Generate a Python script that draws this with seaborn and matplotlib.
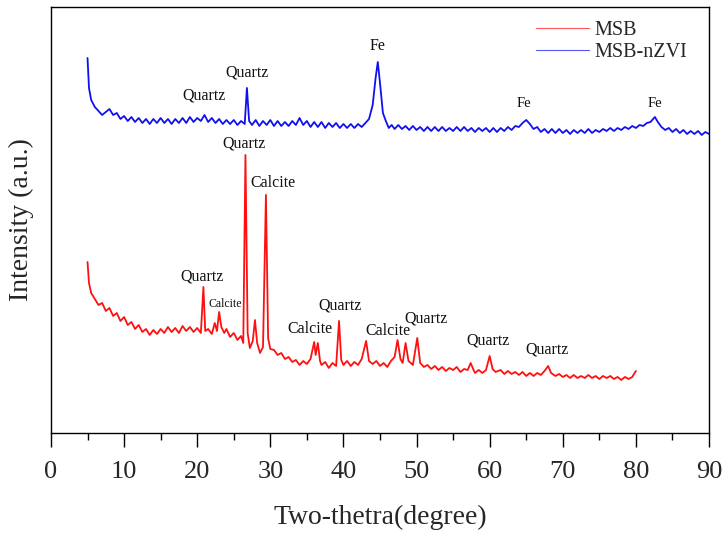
import matplotlib
matplotlib.use("Agg")
import matplotlib.pyplot as plt
import seaborn as sns
import pandas as pd

# MSB pattern (two-theta in degree, intensity a.u.)
msb_x = [5.0, 5.2, 5.5, 6.0, 6.5, 7.0, 7.5, 8.0, 8.5, 9.0, 9.5, 10.0, 10.5, 11.0, 11.5, 12.0, 12.5, 13.0,
         13.5, 14.0, 14.5, 15.0, 15.5, 16.0, 16.5, 17.0, 17.5, 18.0, 18.5, 19.0, 19.5, 20.0, 20.5, 20.85,
         21.1, 21.5, 22.0, 22.4, 22.7, 23.0, 23.3, 23.7, 24.0, 24.5, 25.0, 25.5, 26.0, 26.3, 26.6, 26.9,
         27.2, 27.6, 27.9, 28.2, 28.6, 29.0, 29.4, 29.7, 30.0, 30.5, 31.0, 31.5, 32.0, 32.5, 33.0, 33.5,
         34.0, 34.5, 35.0, 35.5, 36.0, 36.2, 36.5, 36.8, 37.0, 37.5, 38.0, 38.5, 39.0, 39.4, 39.7, 40.0,
         40.5, 41.0, 41.5, 42.0, 42.5, 43.1, 43.5, 44.0, 44.5, 45.0, 45.5, 46.0, 46.5, 47.0, 47.4, 47.8,
         48.1, 48.5, 48.9, 49.5, 50.1, 50.5, 51.0, 51.5, 52.0, 52.5, 53.0, 53.5, 54.0, 54.5, 55.0, 55.5,
         56.0, 56.5, 57.0, 57.4, 57.8, 58.0, 58.5, 59.0, 59.5, 60.0, 60.4, 60.8, 61.5, 62.0, 62.5, 63.0,
         63.5, 64.0, 64.5, 65.0, 65.5, 66.0, 66.5, 67.0, 67.5, 68.0, 68.4, 69.0, 69.5, 70.0, 70.5, 71.0,
         71.5, 72.0, 72.5, 73.0, 73.5, 74.0, 74.5, 75.0, 75.5, 76.0, 76.5, 77.0, 77.5, 78.0, 78.5, 79.0,
         79.5, 80.0]
msb_y = [171, 150, 140, 134, 128, 130, 122, 125, 117, 120, 112, 116, 108, 111, 104, 108, 101, 104,
         98, 103, 99, 104, 100, 106, 101, 105, 100, 107, 102, 106, 101, 105, 100, 146,
         102, 104, 99, 110, 102, 121, 106, 100, 104, 96, 100, 93, 97, 90, 278, 100,
         85, 92, 113, 90, 80, 86, 238, 95, 84, 83, 78, 80, 74, 76, 71, 73,
         68, 72, 69, 74, 91, 78, 90, 72, 68, 71, 65, 70, 67, 112, 73, 68,
         72, 67, 71, 68, 74, 92, 72, 69, 72, 67, 70, 66, 72, 76, 93, 74,
         70, 90, 72, 68, 95, 70, 66, 68, 64, 67, 63, 66, 62, 65, 63, 66,
         61, 64, 63, 70, 63, 60, 63, 60, 63, 77, 64, 61, 63, 59, 62, 59,
         61, 58, 61, 57, 60, 57, 60, 58, 62, 67, 60, 57, 59, 56, 58, 55,
         58, 55, 57, 55, 58, 55, 57, 54, 57, 55, 57, 54, 56, 53, 56, 54,
         56, 62]

# MSB-nZVI pattern
nzvi_x = [5.0, 5.2, 5.5, 6.0, 6.5, 7.0, 7.5, 8.0, 8.5, 9.0, 9.5, 10.0, 10.5, 11.0, 11.5, 12.0, 12.5, 13.0,
          13.5, 14.0, 14.5, 15.0, 15.5, 16.0, 16.5, 17.0, 17.5, 18.0, 18.5, 19.0, 19.5, 20.0, 20.5, 21.0,
          21.5, 22.0, 22.5, 23.0, 23.5, 24.0, 24.5, 25.0, 25.5, 26.0, 26.5, 26.8, 27.1, 27.5, 28.0, 28.5,
          29.0, 29.5, 30.0, 30.5, 31.0, 31.5, 32.0, 32.5, 33.0, 33.5, 34.0, 34.5, 35.0, 35.5, 36.0, 36.5,
          37.0, 37.5, 38.0, 38.5, 39.0, 39.5, 40.0, 40.5, 41.0, 41.5, 42.0, 42.5, 43.0, 43.5, 44.0, 44.4,
          44.7, 45.0, 45.4, 45.8, 46.2, 46.6, 47.0, 47.5, 48.0, 48.5, 49.0, 49.5, 50.0, 50.5, 51.0, 51.5,
          52.0, 52.5, 53.0, 53.5, 54.0, 54.5, 55.0, 55.5, 56.0, 56.5, 57.0, 57.5, 58.0, 58.5, 59.0, 59.5,
          60.0, 60.5, 61.0, 61.5, 62.0, 62.5, 63.0, 63.5, 64.0, 64.5, 65.0, 65.5, 66.0, 66.5, 67.0, 67.5,
          68.0, 68.5, 69.0, 69.5, 70.0, 70.5, 71.0, 71.5, 72.0, 72.5, 73.0, 73.5, 74.0, 74.5, 75.0, 75.5,
          76.0, 76.5, 77.0, 77.5, 78.0, 78.5, 79.0, 79.5, 80.0, 80.5, 81.0, 81.5, 82.0, 82.6, 83.0, 83.5,
          84.0, 84.5, 85.0, 85.5, 86.0, 86.5, 87.0, 87.5, 88.0, 88.5, 89.0, 89.5, 90.0]
nzvi_y = [375, 345, 333, 326, 322, 318, 321, 324, 318, 320, 314, 317, 312, 316, 311, 315, 310, 314,
          309, 314, 310, 315, 310, 314, 309, 314, 310, 315, 310, 316, 311, 315, 312, 318,
          311, 315, 310, 314, 309, 313, 309, 313, 308, 312, 309, 345, 312, 308, 313, 307,
          312, 308, 313, 307, 312, 307, 311, 307, 312, 308, 315, 308, 312, 306, 311, 306,
          311, 305, 310, 306, 310, 305, 309, 305, 309, 305, 309, 306, 310, 314, 328, 355,
          371, 350, 320, 312, 305, 308, 304, 308, 304, 307, 303, 307, 303, 306, 302, 306,
          302, 306, 302, 306, 302, 305, 302, 306, 302, 306, 302, 305, 301, 305, 302, 305,
          301, 305, 301, 305, 302, 306, 303, 307, 306, 310, 313, 309, 304, 306, 301, 304,
          300, 304, 300, 304, 300, 303, 299, 303, 300, 303, 300, 304, 300, 303, 301, 304,
          302, 305, 302, 305, 303, 306, 304, 307, 305, 308, 307, 310, 311, 316, 311, 306,
          303, 305, 301, 304, 300, 303, 299, 302, 299, 302, 298, 301, 299]

# Peak labels
label_text = ["Quartz", "Quartz", "Fe", "Fe", "Fe",
              "Quartz", "Calcite", "Quartz", "Calcite", "Calcite", "Quartz", "Calcite", "Quartz",
              "Quartz", "Quartz"]
label_x = [20.9, 26.8, 44.7, 64.7, 82.6,
           26.4, 30.4, 20.6, 23.8, 35.4, 39.5, 46.1, 51.3, 59.8, 67.9]
label_y = [329, 352, 379, 323, 323,
           281, 242, 148, 123, 96, 119, 94, 106, 84, 75]
label_size = [11.5, 11.5, 11.5, 10.5, 10.5,
              11.5, 11.5, 11.5, 8.5, 11.5, 11.5, 11.5, 11.5, 11.5, 11.5]

x_ticks = [0, 10, 20, 30, 40, 50, 60, 70, 80, 90]

df = pd.concat([
    pd.DataFrame({"x": msb_x, "y": msb_y, "sample": "MSB"}),
    pd.DataFrame({"x": nzvi_x, "y": nzvi_y, "sample": "MSB-nZVI"}),
])

sns.set_theme(style="ticks")
plt.rcParams["font.family"] = ["Liberation Serif", "DejaVu Serif"]

fig = plt.figure(figsize=(7.26, 5.38), dpi=100)
ax = fig.add_axes([0.0702, 0.1952, 0.9064, 0.7918])

sns.lineplot(data=df, x="x", y="y", hue="sample", estimator=None, sort=False,
             palette={"MSB": "#ff1010", "MSB-nZVI": "#1010ee"}, linewidth=1.3, ax=ax)

for t, x, y, s in zip(label_text, label_x, label_y, label_size):
    ax.text(x, y, t, ha="center", va="bottom", fontsize=s, color="#111111")

ax.set_xlim(0, 90)
ax.set_ylim(0, 426)
ax.set_xticks(x_ticks)
ax.set_xticks([5, 15, 25, 35, 45, 55, 65, 75, 85], minor=True)
ax.set_xticklabels([str(v) for v in x_ticks], fontsize=19)
ax.set_yticks([])
ax.tick_params(axis="x", which="major", direction="out", length=10, width=1.0, color="black", pad=10)
ax.tick_params(axis="x", which="minor", direction="out", length=5, width=1.0, color="black")
for sp in ax.spines.values():
    sp.set_visible(True)
    sp.set_color("black")
    sp.set_linewidth(1.0)
ax.set_xlabel("Two-thetra(degree)", fontsize=20, labelpad=16)
ax.set_ylabel("Intensity (a.u.)", fontsize=20, labelpad=12)

leg = ax.legend(loc="upper right", frameon=False, fontsize=14.5, handlelength=2.6,
                bbox_to_anchor=(0.995, 1.01), labelspacing=0.15, handletextpad=0.3)
for h in leg.get_lines():
    h.set_linewidth(0.8)
    h.set_alpha(0.7)

fig.savefig("out.png", dpi=100)
